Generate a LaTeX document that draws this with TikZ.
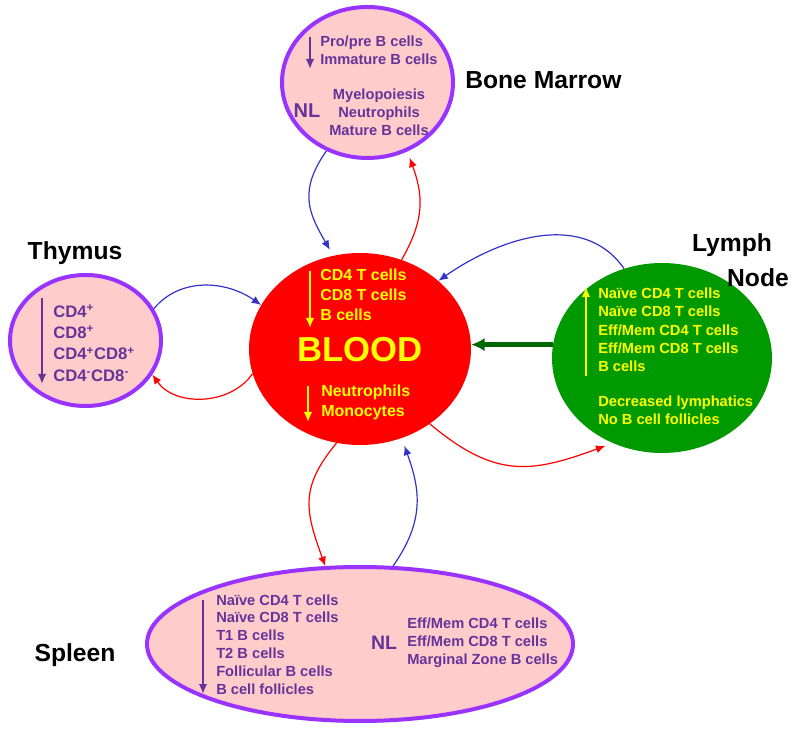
\documentclass[tikz,border=0pt]{standalone}
\usepackage{fontspec}
\setmainfont{Liberation Sans}
\usetikzlibrary{arrows.meta,shapes.geometric}

\definecolor{organpink}{HTML}{FFCCCC}
\definecolor{organedge}{HTML}{9933FF}
\definecolor{organtext}{HTML}{663399}
\definecolor{bloodred}{HTML}{FF0000}
\definecolor{lymphgreen}{HTML}{009900}
\definecolor{flowblue}{HTML}{3333CC}
\definecolor{flowred}{HTML}{FF0000}
\definecolor{darkflow}{HTML}{006600}
\definecolor{celltext}{HTML}{FFFF00}

\tikzset{
	organ/.style={ellipse, draw=organedge, fill=organpink, line width=3pt, inner sep=0pt},
	pool/.style={ellipse, inner sep=0pt},
	celllist/.style={font=\bfseries\fontsize{11pt}{13.4pt}\selectfont, align=left, anchor=west, inner sep=0pt},
	organname/.style={font=\bfseries\fontsize{18.5pt}{22pt}\selectfont, inner sep=0pt},
	flow/.style={line width=0.9pt, -{Latex[length=7pt, width=6pt]}},
	trend/.style={line width=1.8pt, -{Latex[length=7.5pt, width=6.5pt]}}
}

\begin{document}
\begin{tikzpicture}[x=0.75pt, y=-0.75pt]
	\useasboundingbox (0, 0) rectangle (800, 730);

	% organs
	\node [organ, minimum width=128.25pt, minimum height=113.25pt] (bm) at (367.5, 82.5) {};
	\node [organ, minimum width=113.25pt, minimum height=98.25pt] (thy) at (85.5, 340.5) {};
	\node [pool, fill=bloodred, minimum width=166.5pt, minimum height=144pt] (blood) at (360, 349) {};
	\node [pool, fill=lymphgreen, minimum width=165pt, minimum height=142.5pt] (ln) at (662, 358) {};
	\node [organ, minimum width=319.5pt, minimum height=115.5pt] (spl) at (360, 644) {};

	% organ names
	\node [organname, anchor=west] (bmname) at (465, 80) {Bone Marrow};
	\node [organname] (thyname) at (75, 253) {Thymus};
	\node [organname] (lnname) at (732, 245) {Lymph};
	\node [organname] (lnname2) at (758, 278) {Node};
	\node [organname] (splname) at (75, 655) {Spleen};

	% bone marrow
	\draw [trend, organtext] (310, 37) -- (310, 69);
	\node [celllist, text=organtext] (bm1) at (320, 50.5) {Pro/pre B cells\\Immature B cells};
	\node [organname, text=organtext, font=\bfseries\fontsize{15pt}{18pt}\selectfont] (bmnl) at (307, 111) {NL};
	\node [celllist, text=organtext, align=center, anchor=center] (bm2) at (379, 112.5) {Myelopoiesis\\Neutrophils\\Mature B cells};

	% thymus
	\draw [trend, organtext] (42, 298) -- (42, 384);
	\node [celllist, text=organtext, font=\bfseries\fontsize{12.5pt}{16pt}\selectfont] (thy1) at (53, 343)
		{CD4\textsuperscript{+}\\CD8\textsuperscript{+}\\CD4\textsuperscript{+}CD8\textsuperscript{+}\\CD4\textsuperscript{-}CD8\textsuperscript{-}};

	% blood
	\draw [trend, celltext] (310, 271) -- (310, 328);
	\node [celllist, text=celltext, font=\bfseries\fontsize{12pt}{15pt}\selectfont] (bl1) at (320, 295) {CD4 T cells\\CD8 T cells\\B cells};
	\node [organname, text=celltext, font=\bfseries\fontsize{26pt}{30pt}\selectfont] (bl0) at (360, 350) {BLOOD};
	\draw [trend, celltext] (308, 386) -- (308, 422);
	\node [celllist, text=celltext, font=\bfseries\fontsize{12pt}{15pt}\selectfont] (bl2) at (321, 402.5) {Neutrophils\\Monocytes};

	% lymph node
	\draw [trend, celltext] (586, 376) -- (586, 287);
	\node [celllist, text=celltext, font=\bfseries\fontsize{11pt}{13.7pt}\selectfont] (ln1) at (598, 330)
		{Na\"ive CD4 T cells\\Na\"ive CD8 T cells\\Eff/Mem CD4 T cells\\Eff/Mem CD8 T cells\\B cells};
	\node [celllist, text=celltext, font=\bfseries\fontsize{11pt}{13.7pt}\selectfont] (ln2) at (598, 410.5)
		{Decreased lymphatics\\No B cell follicles};

	% spleen
	\draw [trend, organtext] (203, 600) -- (203, 694);
	\node [celllist, text=organtext] (spl1) at (216, 644.5)
		{Na\"ive CD4 T cells\\Na\"ive CD8 T cells\\T1 B cells\\T2 B cells\\Follicular B cells\\B cell follicles};
	\node [organname, text=organtext, font=\bfseries\fontsize{14.6pt}{18pt}\selectfont] (splnl) at (384, 643) {NL};
	\node [celllist, text=organtext] (spl2) at (407, 642.5)
		{Eff/Mem CD4 T cells\\Eff/Mem CD8 T cells\\Marginal Zone B cells};

	% traffic
	\draw [flow, flowblue, shorten >=5pt] (bm.239) to [out=235, in=120, looseness=1.2] (blood.106);
	\draw [flow, flowred, shorten >=5pt] (blood.65) to [out=60, in=290, looseness=1.1] (bm.300);
	\draw [flow, flowblue] (ln.113) to [out=125, in=35] (blood.41);
	\draw [line width=3.5pt, darkflow, -{Latex[length=10pt, width=10pt]}] (ln.173) -- (ln.173 -| blood.east);
	\draw [flow, flowblue] (thy.25) to [out=50, in=145] (blood.156);
	\draw [flow, flowred] (blood.193) to [out=235, in=305] (thy.333);
	\draw [flow, flowred] (blood.256) to [out=230, in=110, looseness=1.2] (spl.114);
	\draw [flow, flowblue, shorten >=6pt] (spl.67) to [out=55, in=290, looseness=1.1] (blood.295);
	\draw [flow, flowred, shorten >=6pt] (blood.313) to [out=320, in=200, looseness=1.2] (ln.240);
\end{tikzpicture}
\end{document}
